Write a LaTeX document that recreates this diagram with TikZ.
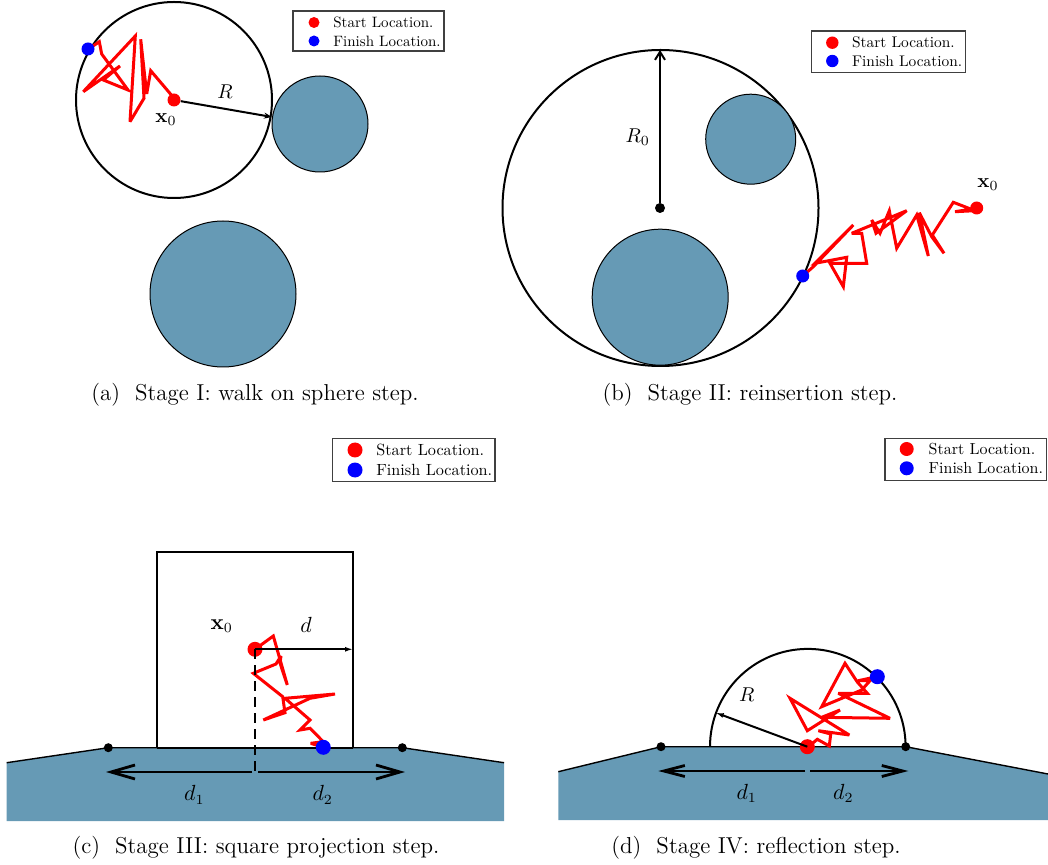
\documentclass[tikz,border=0pt]{standalone}
\usetikzlibrary{arrows.meta}
\definecolor{obst}{RGB}{102,154,181}
\begin{document}
\begin{tikzpicture}[x=0.5pt,y=-0.5pt,
  walk/.style={red, line width=1.5pt, line join=miter, miter limit=4},
  bound/.style={black, line width=1pt},
  obstacle/.style={fill=obst, draw=black, line width=0.5pt},
  sdot/.style={circle, fill=red, inner sep=0pt, minimum size=#1},
  fdot/.style={circle, fill=blue, inner sep=0pt, minimum size=#1},
  kdot/.style={circle, fill=black, inner sep=0pt, minimum size=#1},
  legbox/.style={draw=black!75, line width=0.6pt},
  legtext/.style={anchor=west, inner sep=0pt},
  lbl/.style={inner sep=0pt, font=#1},
  capt/.style={inner sep=0pt, font=\fontsize{11.5}{14}\selectfont},
  ground/.style={fill=obst, draw=none},
  groundedge/.style={black, line width=0.7pt, line join=miter}
]
\useasboundingbox (0,0) rectangle (1048,865);

% ================= Panel (a) =================
\draw[bound] (174,100) circle[radius=49pt];
\draw[obstacle] (320,124) circle[radius=24pt];
\draw[obstacle] (223,294) circle[radius=36.5pt];
\draw[walk] (175,99.3) -- (150.7,70.7) -- (146.7,94) -- (140.7,39.3) -- (144,98.3)
  -- (130,121.7) -- (135.3,36) -- (83.3,91.7) -- (120,66) -- (103.3,80)
  -- (128,90) -- (101.7,54) -- (99.3,41.7) -- (88.3,49.3);
\node[sdot=6.5pt] (ax0) at (174,100) {};
\node[fdot=6.5pt] (afin) at (88,49) {};
\coordinate (arim) at (272,117);
\draw[bound, -{Stealth[length=4pt,width=3pt]}] (ax0) -- (arim);
\node[lbl=\fontsize{10}{12}\selectfont] (aR) at (225,92) {$R$};
\node[lbl=\fontsize{10}{12}\selectfont] (ax0l) at (166,120) {$\mathbf{x}_0$};
% legend (a)
\draw[legbox] (293,11) rectangle (444,51);
\node[sdot=5.5pt] (alr) at (314,22.5) {};
\node[fdot=5.5pt] (alb) at (314,41) {};
\node[legtext] (alrt) at (333,22.5) {\scalebox{0.75}{Start Location.}};
\node[legtext] (albt) at (333,41) {\scalebox{0.75}{Finish Location.}};
\node[capt] (acap) at (255,395) {(a)\ \ Stage I: walk on sphere step.};

% ================= Panel (b) =================
\draw[bound] (660.5,208) circle[radius=79pt];
\draw[obstacle] (750.7,139.2) circle[radius=22.5pt];
\draw[obstacle] (660.2,297.2) circle[radius=34pt];
\node[kdot=5pt] (bc) at (660,208) {};
\coordinate (btop) at (660,50);
\draw[bound, -{Straight Barb[length=4pt,width=5pt,line width=1pt]}] (bc) -- (btop);
\node[lbl=\fontsize{10}{12}\selectfont] (bR) at (637.7,137.3) {$R_0$};
\draw[walk] (976.7,208.3) -- (955,211.7) -- (975,210.7) -- (953.3,202.3)
  -- (932.3,235) -- (944,253.3) -- (931.7,236.7) -- (919.3,212.7) -- (928.3,256)
  -- (916.7,215) -- (896.7,248.3) -- (889.3,210.7) -- (880,233.3) -- (871.7,220)
  -- (876,233.3) -- (906.7,210.7) -- (851.7,233.3) -- (861.7,233.3) -- (866.7,263.3)
  -- (830,263.3) -- (843.3,286.7) -- (846.7,257.3) -- (815,263.3) -- (853.3,225)
  -- (813.3,266.7) -- (802.7,276);
\node[sdot=6.5pt] (bx0) at (976.7,208) {};
\node[fdot=6.5pt] (bfin) at (802.7,276) {};
\node[lbl=\fontsize{10}{12}\selectfont] (bx0l) at (988,185) {$\mathbf{x}_0$};
% legend (b)
\draw[legbox] (811.7,31) rectangle (965.7,72.7);
\node[sdot=6.2pt] (blr) at (832.3,42.7) {};
\node[fdot=6.2pt] (blb) at (832.3,61) {};
\node[legtext] (blrt) at (851.7,42.7) {\scalebox{0.77}{Start Location.}};
\node[legtext] (blbt) at (851.7,61) {\scalebox{0.77}{Finish Location.}};
\node[capt] (bcap) at (750,395) {(b)\ \ Stage II: reinsertion step.};

% ================= Panel (c) =================
\fill[ground] (6.7,762.7) -- (108.3,747.7) -- (402.3,747.7) -- (504,762.7)
  -- (504,821) -- (6.7,821) -- cycle;
\draw[groundedge] (6.7,762.7) -- (108.3,747.7) -- (402.3,747.7) -- (504,762.7);
\draw[bound] (157.3,747.5) -- (157.3,551.7) -- (353.3,551.7) -- (353.3,747.5);
\draw[black, line width=1pt] (157.3,747.5) -- (353.3,747.5);
\node[kdot=4.5pt] (cl) at (108.3,747.7) {};
\node[kdot=4.5pt] (cr) at (402.3,747.7) {};
\draw[walk] (255,649.3) -- (273.3,636) -- (287.3,685) -- (280,663) -- (281,656)
  -- (276,664) -- (253.3,673.3) -- (282.7,696.7) -- (285,712.7) -- (263.3,720)
  -- (310,698.3) -- (335,694) -- (285,698.3) -- (310,720) -- (300,730)
  -- (310,728.3) -- (323.3,741.7) -- (310.7,743.3) -- (323.3,747.3);
\node[sdot=7.5pt] (cx0) at (255,649.3) {};
\node[fdot=7.5pt] (cfin) at (323.3,747.3) {};
\coordinate (cfoot) at (255,772);
\coordinate (cwall) at (353,649.3);
\draw[black, line width=1pt, dashed, dash pattern=on 5pt off 3pt] (cx0.center) -- (cfoot);
\draw[black, line width=1pt, -{Latex[length=4pt,width=2.5pt]}] (cx0.center) -- (cwall);
\node[lbl=\fontsize{10.5}{12}\selectfont] (cdl) at (306,625) {$d$};
\node[lbl=\fontsize{10.5}{12}\selectfont] (cx0l) at (221.7,626) {$\mathbf{x}_0$};
\coordinate (cml) at (252,772);
\coordinate (cmr) at (258,772);
\coordinate (cd1) at (106,772);
\coordinate (cd2) at (405,772);
\draw[black, line width=1.4pt, -{Straight Barb[length=12pt,width=7pt,line width=1.4pt]}] (cml) -- (cd1);
\draw[black, line width=1.4pt, -{Straight Barb[length=12pt,width=7pt,line width=1.4pt]}] (cmr) -- (cd2);
\node[lbl=\fontsize{10.5}{12}\selectfont] (cd1l) at (194.3,795) {$d_1$};
\node[lbl=\fontsize{10.5}{12}\selectfont] (cd2l) at (322.7,795) {$d_2$};
% legend (c)
\draw[legbox] (332.7,438.3) rectangle (495,481.7);
\node[sdot=7.5pt] (clr) at (355,450) {};
\node[fdot=7.5pt] (clb) at (355,470) {};
\node[legtext] (clrt) at (376,450) {\scalebox{0.81}{Start Location.}};
\node[legtext] (clbt) at (376,470) {\scalebox{0.81}{Finish Location.}};
\node[capt] (ccap) at (256,848) {(c)\ \ Stage III: square projection step.};

% ================= Panel (d) =================
\fill[ground] (558.3,771.7) -- (661,746.7) -- (905.7,746.7) -- (1048,774)
  -- (1048,820) -- (558.3,820) -- cycle;
\draw[groundedge] (558.3,771.7) -- (661,746.7) -- (905.7,746.7) -- (1048,774);
\draw[bound] (710,746.7) arc[start angle=180, end angle=0, radius=48.9pt];
\node[kdot=4.5pt] (dl) at (661,746.7) {};
\node[kdot=4.5pt] (dr) at (905.7,746.7) {};
\draw[walk] (807.7,747.3) -- (817.3,739.3) -- (829.3,746) -- (830.7,734) -- (818.3,730.7)
  -- (849.3,735) -- (790,698.3) -- (807.3,730.7) -- (840,710) -- (821.7,717.3)
  -- (890,718.3) -- (838.3,693.3) -- (867.3,693.3) -- (857.3,682) -- (845,663.3)
  -- (821.7,706.7) -- (861.7,690) -- (870,680.7) -- (858.3,680.7) -- (876.7,676.7);
\node[sdot=7.5pt] (dx0) at (807.3,746.7) {};
\node[fdot=7.5pt] (dfin) at (877.3,676.7) {};
\coordinate (darc) at (715.7,712.7);
\draw[black, line width=1pt, -{Latex[length=4pt,width=2.5pt]}] (dx0.center) -- (darc);
\node[lbl=\fontsize{10}{12}\selectfont] (dRl) at (746.7,695) {$R$};
\coordinate (dml) at (805,771);
\coordinate (dmr) at (810,771);
\coordinate (dd1) at (658.3,771);
\coordinate (dd2) at (908.3,771);
\draw[black, line width=1.4pt, -{Straight Barb[length=10.5pt,width=5.5pt,line width=1.4pt]}] (dml) -- (dd1);
\draw[black, line width=1.4pt, -{Straight Barb[length=10.5pt,width=5.5pt,line width=1.4pt]}] (dmr) -- (dd2);
\node[lbl=\fontsize{10.5}{12}\selectfont] (dd1l) at (746.7,793.3) {$d_1$};
\node[lbl=\fontsize{10.5}{12}\selectfont] (dd2l) at (843.3,793.3) {$d_2$};
% legend (d)
\draw[legbox] (885,438.3) rectangle (1046.7,480.7);
\node[sdot=7pt] (dlr) at (906.7,449) {};
\node[fdot=7pt] (dlb) at (906.7,468.3) {};
\node[legtext] (dlrt) at (928.3,449) {\scalebox{0.8}{Start Location.}};
\node[legtext] (dlbt) at (928.3,468.3) {\scalebox{0.8}{Finish Location.}};
\node[capt] (dcap) at (756,848) {(d)\ \ Stage IV: reflection step.};
\end{tikzpicture}
\end{document}
